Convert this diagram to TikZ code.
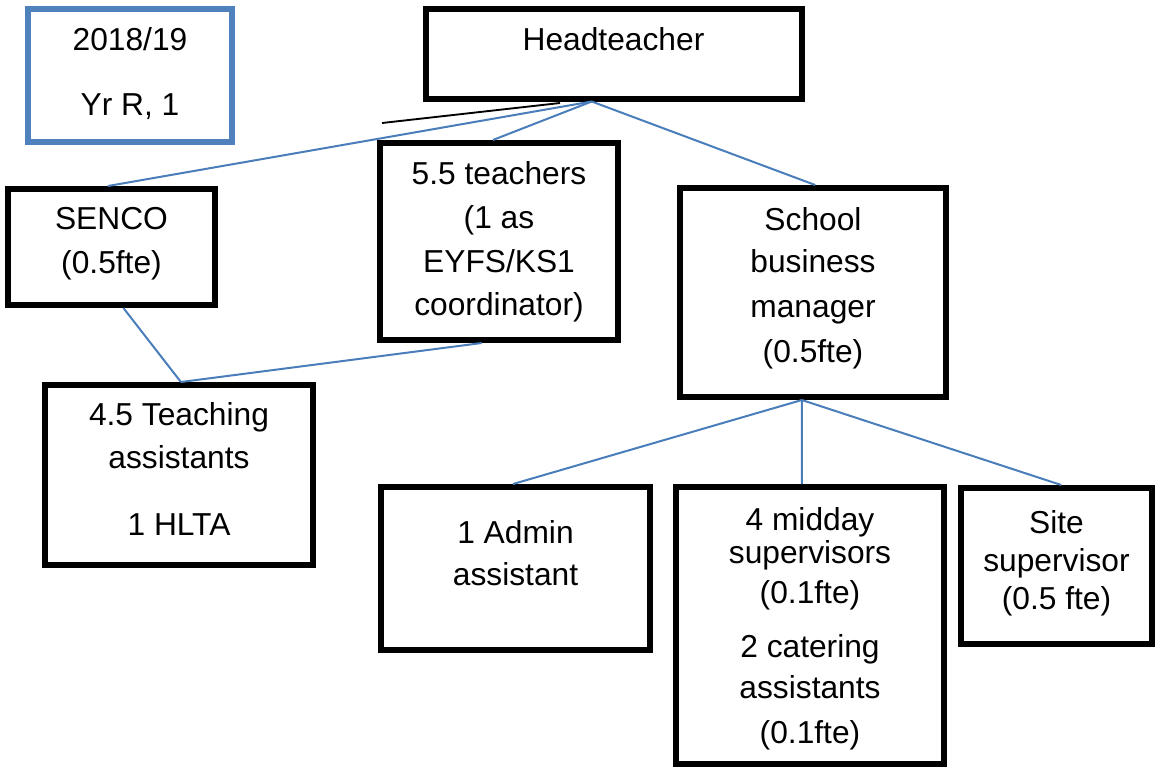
\documentclass[tikz,border=0pt]{standalone}
\usepackage{fontspec}
\setmainfont{Liberation Sans}
\usetikzlibrary{fit,calc}
\definecolor{frameblue}{HTML}{4F81BD}
\definecolor{linkblue}{HTML}{4A7EBB}
\tikzset{
  box/.style={draw=black, line width=4.5pt, inner sep=0pt},
  yearbox/.style={draw=frameblue, line width=4.5pt, inner sep=0pt},
  txt/.style={anchor=base, inner sep=0pt, font=\fontsize{23.8}{28}\selectfont, text=black},
  link/.style={draw=linkblue, line width=1.5pt},
  stray/.style={draw=black, line width=1.4pt}
}
\begin{document}
\begin{tikzpicture}[x=0.75pt, y=-0.75pt]
\useasboundingbox (0,0) rectangle (1162,769);

% free ends of the short black stroke under the head box
\coordinate (strayA) at (382,123);
\coordinate (strayB) at (560,103);

% boxes (fit to their frame corners)
\node[yearbox, fit={(28,9)(232,142)}] (year) {};
\node[box, fit={(425.5,8.5)(801.5,98.5)}] (head) {};
\node[box, fit={(8,189)(215,305)}] (senco) {};
\node[box, fit={(380,143)(618,340)}] (teach) {};
\node[box, fit={(680,188)(946,397)}] (sbm) {};
\node[box, fit={(45,385)(313,565)}] (ta) {};
\node[box, fit={(381,487)(650,650)}] (admin) {};
\node[box, fit={(676,487)(944,764)}] (midday) {};
\node[box, fit={(961,488)(1152,644)}] (site) {};

% connectors, drawn on a background layer so their ends tuck under the frames
\begin{scope}[on background layer/.try]
\draw[link] ($(head.south west)!0.443!(head.south east)$) -- ($(senco.north west)!0.483!(senco.north east)$);
\draw[link] ($(head.south west)!0.443!(head.south east)$) -- ($(teach.north west)!0.475!(teach.north east)$);
\draw[link] ($(head.south west)!0.443!(head.south east)$) -- ($(sbm.north west)!0.508!(sbm.north east)$);
\draw[stray] (strayA) -- (strayB);
\draw[link] ($(senco.south west)!0.556!(senco.south east)$) -- ($(ta.north west)!0.507!(ta.north east)$);
\draw[link] ($(teach.south west)!0.429!(teach.south east)$) -- ($(ta.north west)!0.507!(ta.north east)$);
\draw[link] ($(sbm.south west)!0.459!(sbm.south east)$) -- ($(admin.north west)!0.491!(admin.north east)$);
\draw[link] ($(sbm.south west)!0.459!(sbm.south east)$) -- ($(midday.north west)!0.470!(midday.north east)$);
\draw[link] ($(sbm.south west)!0.459!(sbm.south east)$) -- ($(site.north west)!0.524!(site.north east)$);
\end{scope}

% texts
\node[txt] (year1) at (130,50) {2018/19};
\node[txt] (year2) at (130,115) {Yr R, 1};

\node[txt] (head1) at (613.5,50) {Headteacher};

\node[txt] (senco1) at (111.5,229) {SENCO};
\node[txt] (senco2) at (111.5,273) {(0.5fte)};

\node[txt] (teach1) at (499,184) {5.5 teachers};
\node[txt] (teach2) at (499,228) {(1 as};
\node[txt] (teach3) at (499,272) {EYFS/KS1};
\node[txt] (teach4) at (499,315) {coordinator)};

\node[txt] (sbm1) at (813,230) {School};
\node[txt] (sbm2) at (813,272) {business};
\node[txt] (sbm3) at (813,317) {manager};
\node[txt] (sbm4) at (813,362) {(0.5fte)};

\node[txt] (ta1) at (179,425) {4.5 Teaching};
\node[txt] (ta2) at (179,468) {assistants};
\node[txt] (ta3) at (179,535) {1 HLTA};

\node[txt] (admin1) at (515.5,543) {1 Admin};
\node[txt] (admin2) at (515.5,585) {assistant};

\node[txt] (mid1) at (810,530) {4 midday};
\node[txt] (mid2) at (810,563) {supervisors};
\node[txt] (mid3) at (810,603) {(0.1fte)};
\node[txt] (mid4) at (810,657) {2 catering};
\node[txt] (mid5) at (810,698) {assistants};
\node[txt] (mid6) at (810,743) {(0.1fte)};

\node[txt] (site1) at (1056.5,533) {Site};
\node[txt] (site2) at (1056.5,571) {supervisor};
\node[txt] (site3) at (1056.5,609) {(0.5 fte)};
\end{tikzpicture}
\end{document}
